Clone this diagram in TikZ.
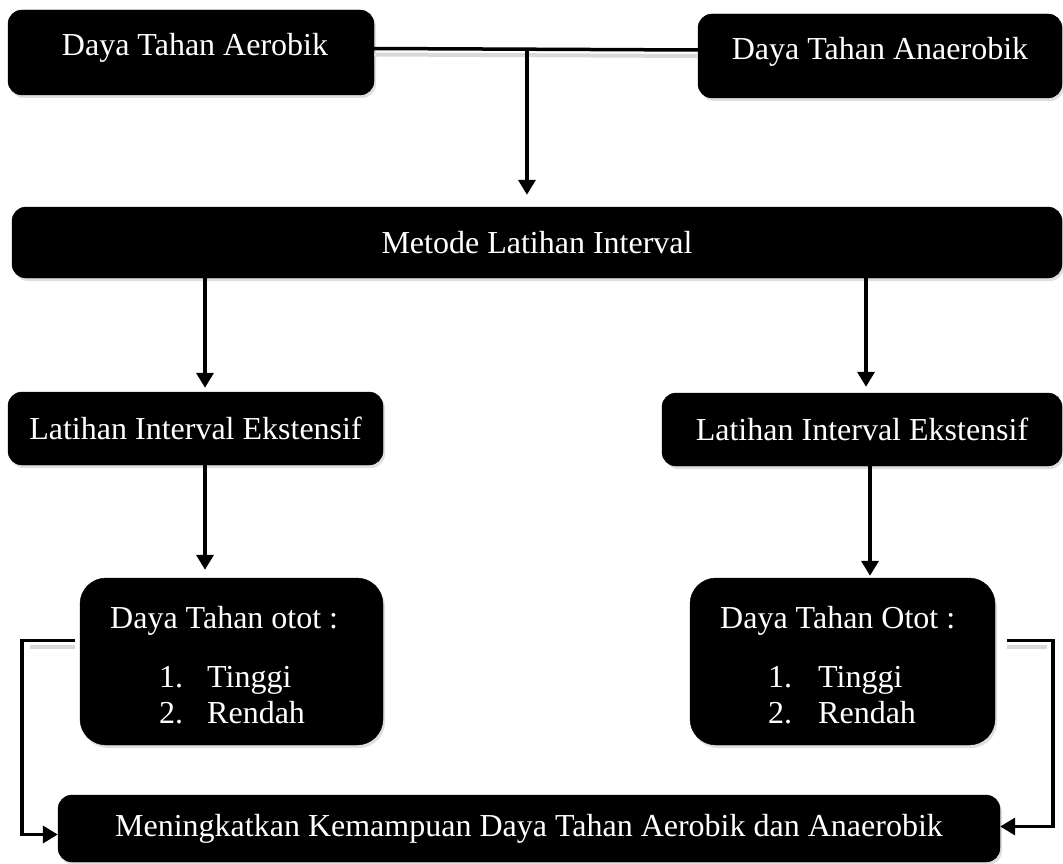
\documentclass[tikz,border=0pt]{standalone}
\usepackage{fontspec}
\setmainfont{Liberation Serif}
\usetikzlibrary{arrows.meta,calc,shadows}
\begin{document}
\begin{tikzpicture}[x=1pt,y=-1pt,
  box/.style={rectangle, fill=black, draw=black, rounded corners=14pt, inner sep=0pt,
    text=white, font=\fontsize{32}{38}\selectfont,
    drop shadow={shadow xshift=2pt, shadow yshift=-3pt, opacity=0.25}},
  bigbox/.style={box, rounded corners=26pt},
  txt/.style={text=white, font=\fontsize{32}{38}\selectfont, inner sep=0pt},
  conn/.style={line width=3.5pt, draw=black},
  arr/.style={conn, -{Triangle[length=15pt,width=17pt]}},
  sh/.style={line width=4pt, draw=black!15}
]
\useasboundingbox (0,0) rectangle (1063,864);
\fill[white] (0,0) rectangle (1063,864);

% boxes
\node[box, minimum width=366pt, minimum height=85pt] (aer) at (191,52.5) {};
\node[txt] (aerT) at (195,48) {Daya Tahan Aerobik};
\node[box, minimum width=364pt, minimum height=84pt] (ana) at (880,56) {};
\node[txt] (anaT) at (880,52) {Daya Tahan Anaerobik};
\node[box, minimum width=1050pt, minimum height=71pt] (met) at (537,242.5) {Metode Latihan Interval};
\node[box, minimum width=375pt, minimum height=73pt] (lie1) at (195.5,428.5) {Latihan Interval Ekstensif};
\node[box, minimum width=400pt, minimum height=73pt] (lie2) at (862,429.5) {Latihan Interval Ekstensif};
\node[bigbox, minimum width=303pt, minimum height=167pt] (ot1) at (231.5,661.5) {};
\node[bigbox, minimum width=305pt, minimum height=167pt] (ot2) at (842.5,661.5) {};
\node[box, minimum width=942pt, minimum height=67pt] (bot) at (529,828.5) {Meningkatkan Kemampuan Daya Tahan Aerobik dan Anaerobik};

% texts inside muscle-endurance boxes
\node[txt, anchor=base west] (h1) at (110,628) {Daya Tahan otot :};
\node[txt, anchor=base west] (n11) at (159,687) {1.};
\node[txt, anchor=base west] (t11) at (207,687) {Tinggi};
\node[txt, anchor=base west] (n12) at (159,723) {2.};
\node[txt, anchor=base west] (t12) at (207,723) {Rendah};
\node[txt, anchor=base west] (h2) at (720,628) {Daya Tahan Otot :};
\node[txt, anchor=base west] (n21) at (768,687) {1.};
\node[txt, anchor=base west] (t21) at (818,687) {Tinggi};
\node[txt, anchor=base west] (n22) at (768,723) {2.};
\node[txt, anchor=base west] (t22) at (818,723) {Rendah};

% helper x positions
\coordinate (xa) at (205,0);
\coordinate (xb) at (866,0);
\coordinate (xc) at (870,0);

% top connector
\path ([yshift=4pt]aer.east) -- coordinate[pos=0.472] (j) ([yshift=6pt]ana.west);
\draw[sh] ([yshift=-2pt]aer.east) -- ([yshift=0pt]ana.west);
\draw[conn] ([yshift=4pt]aer.east) -- ([yshift=6pt]ana.west);
\draw[arr] (j) -- ([yshift=12pt]met.north -| j);

% metode -> latihan
\draw[arr] (met.south -| xa) -- ([yshift=4pt]lie1.north -| xa);
\draw[arr] (met.south -| xb) -- ([yshift=6pt]lie2.north -| xb);

% latihan -> otot
\draw[arr] (lie1.south -| xa) -- ([yshift=8pt]ot1.north -| xa);
\draw[arr] (lie2.south -| xc) -- ([yshift=2pt]ot2.north -| xc);

% brackets to bottom
\draw[sh] ([yshift=15pt,xshift=-5pt]ot1.west) -- ++(-45,0);
\draw[arr] ([yshift=21pt,xshift=-5pt]ot1.west) -- ++(-53,0) |- ([yshift=-6pt]bot.west);
\draw[sh] ([yshift=15pt,xshift=12pt]ot2.east) -- ++(40,0);
\draw[arr] ([yshift=21pt,xshift=12pt]ot2.east) -- ++(46,0) |- ([yshift=2pt]bot.east);
\end{tikzpicture}
\end{document}
